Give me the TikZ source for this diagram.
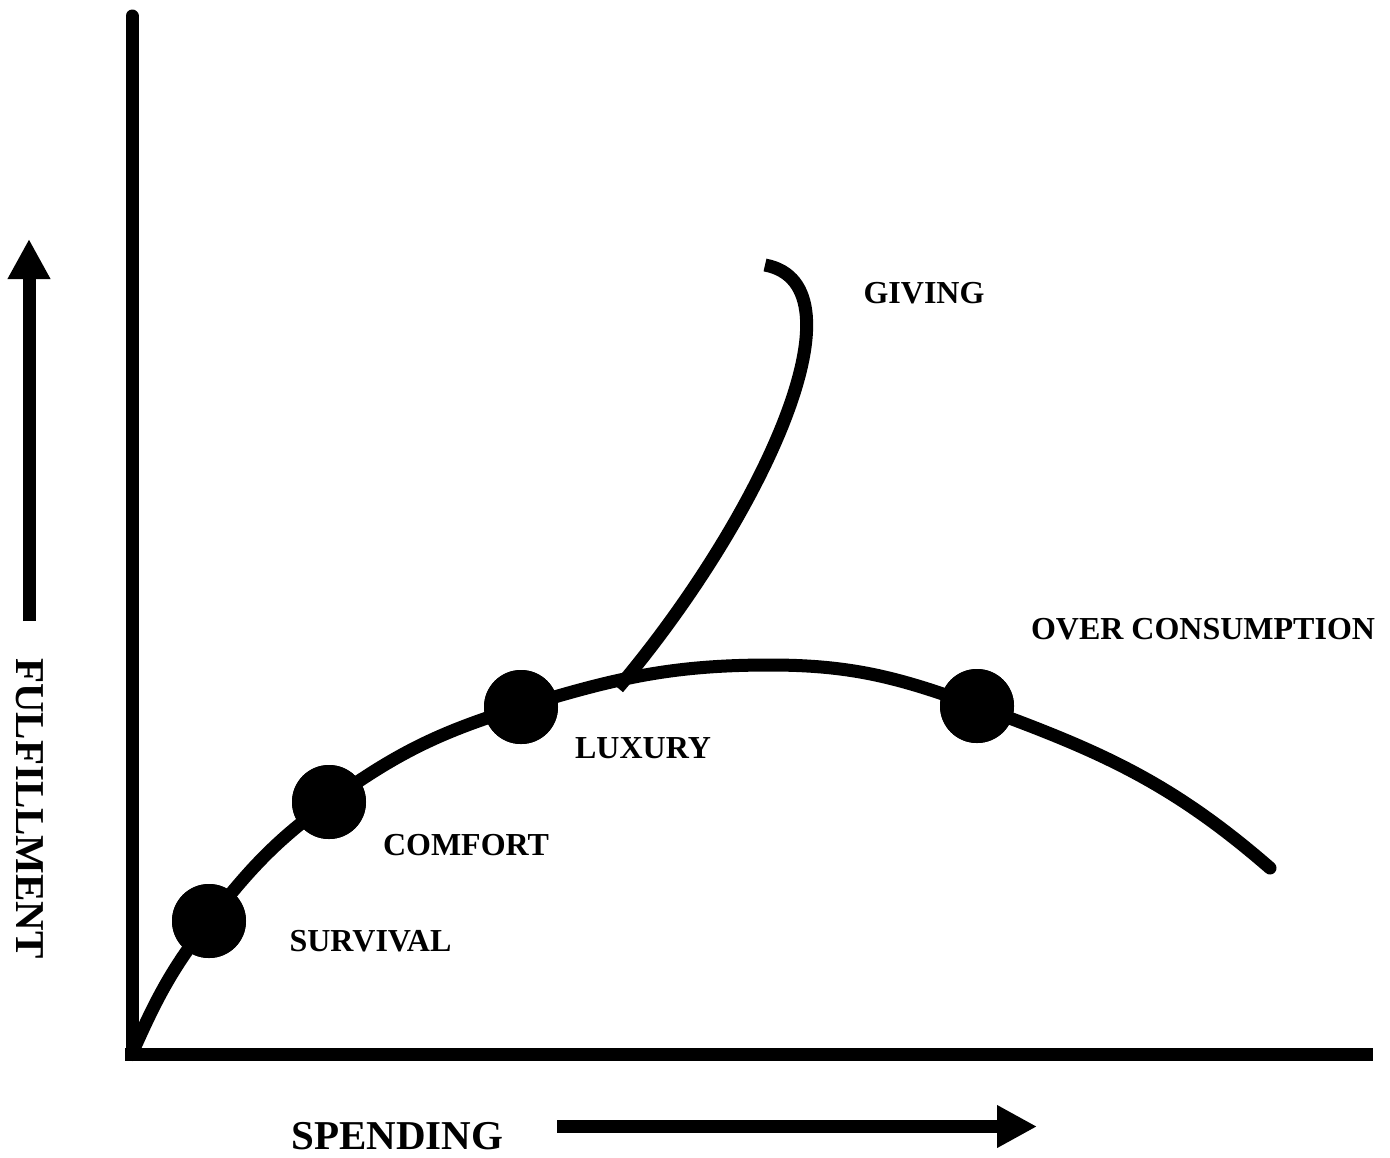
\documentclass[tikz,border=0pt]{standalone}
\usepackage{fontspec}
\setmainfont{Liberation Serif}
\usetikzlibrary{arrows.meta}
\begin{document}
\begin{tikzpicture}[x=0.5pt,y=-0.5pt,
  thickline/.style={line width=6.5pt},
  dot/.style={circle,fill=black,inner sep=0pt,minimum size=37pt},
  lab/.style={font=\fontsize{16}{16}\selectfont\bfseries,inner sep=0pt},
  biglab/.style={font=\fontsize{20.5}{20.5}\selectfont\bfseries,inner sep=0pt},
  bigarrow/.style={line width=6.5pt,-{Triangle[length=20pt,width=20pt]}}]
\useasboundingbox[fill=white] (0,0) rectangle (1390,1157);
% axes
\coordinate (ytop) at (132,16);
\coordinate (ybot) at (132,1054.5);
\coordinate (xstart) at (125,1054.5);
\coordinate (xend) at (1373,1054.5);
\draw[thickline,line cap=round] (ybot) -- (ytop);
\draw[thickline] (xstart) -- (xend);
% main curve
\coordinate (c0) at (134,1049);
\coordinate (cpeak) at (770,665);
\coordinate (cend) at (1270,868);
\node[dot] (survival) at (209,921) {};
\node[dot] (comfort) at (329,802) {};
\node[dot] (luxury) at (521,707) {};
\node[dot] (over) at (977,706) {};
\draw[thickline,line cap=round] (c0) to[out=66,in=232] (survival.center)
  to[out=52,in=216] (comfort.center)
  to[out=36,in=197] (luxury.center)
  to[out=17,in=180] (cpeak)
  to[out=0,in=160] (over.center)
  to[out=-20,in=139] (cend);
% giving curve
\coordinate (gstart) at (618,688);
\coordinate (gend) at (765,265);
\draw[thickline] (gstart) .. controls (760,520) and (870,285) .. (gend);
% redraw dots on top
\fill (survival) circle[radius=18.5pt];
\fill (comfort) circle[radius=18.5pt];
\fill (luxury) circle[radius=18.5pt];
\fill (over) circle[radius=18.5pt];
% labels
\node[lab] (tsurvival) at (370.5,941.5) {SURVIVAL};
\node[lab] (tcomfort) at (466,845) {COMFORT};
\node[lab] (tluxury) at (643,748) {LUXURY};
\node[lab] (tover) at (1203,629) {OVER CONSUMPTION};
\node[lab] (tgiving) at (924,293) {GIVING};
\node[biglab] (tspending) at (397.5,1136.5) {SPENDING};
\node[biglab,rotate=-90] (tfulfil) at (30,808.5) {FULFILLMENT};
% axis arrows
\coordinate (ua) at (29,621);
\coordinate (ub) at (29,239);
\coordinate (ra) at (557,1126.5);
\coordinate (rb) at (1037,1126.5);
\draw[bigarrow] (ua) -- (ub);
\draw[bigarrow] (ra) -- (rb);
\end{tikzpicture}
\end{document}
